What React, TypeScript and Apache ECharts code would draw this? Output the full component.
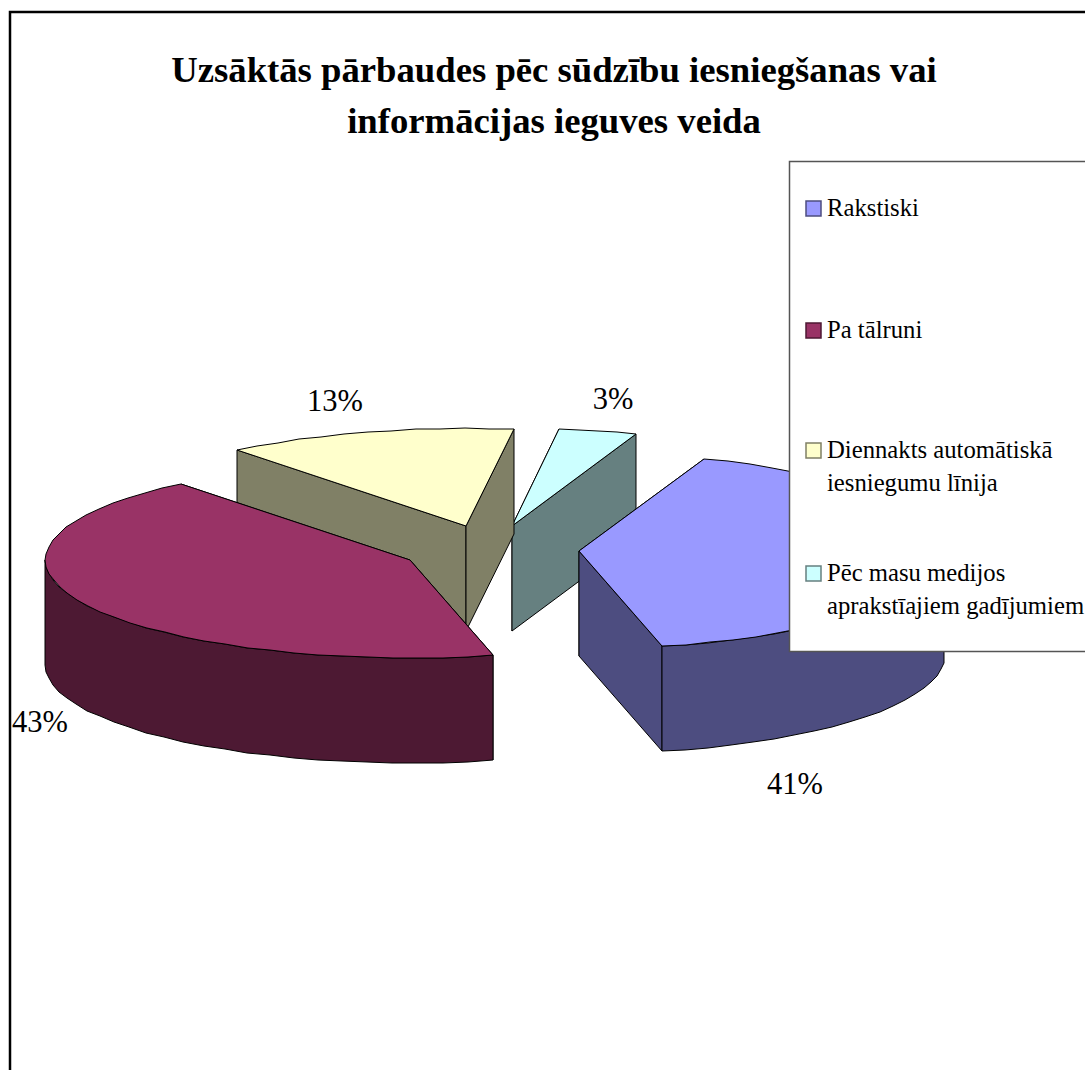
import React, { useEffect, useRef } from "react";
import * as echarts from "echarts";

const titleLines = ["Uzsāktās pārbaudes pēc sūdzību iesniegšanas vai", "informācijas ieguves veida"];
const categories = ["Rakstiski", "Pa tālruni", "Diennakts automātiskā\niesniegumu līnija", "Pēc masu medijos\naprakstīajiem gadījumiem"];
const shares = [40.83, 42.82, 12.86, 3.49];
const topColors = ["#9999FF", "#993366", "#FFFFCC", "#CCFFFF"];
const wallColors = ["#4D4D80", "#4D1933", "#808066", "#668080"];

const FONT = '"Liberation Serif", "Times New Roman", serif';
const PIE = { cx: 490.5, cy: 549.5, a: 365, b: 98, h: 105, explode: 89, startDeg: -70 };
const LABEL_AT = [[795, 784], [40, 722], [335, 401], [613, 399]];
const LEGEND_BOX = { x: 789.5, y: 161.5, w: 320, h: 490 };
const LEGEND_ROW_Y = [207, 329, 449, 572];
const LEGEND_LINE = 33;

const total = shares.reduce((s, v) => s + v, 0);

function renderSlice(params: any, api: any) {
  const i = params.dataIndex;
  const value = api.value(0);
  const before = shares.slice(0, i).reduce((s, v) => s + v, 0);
  const t0 = PIE.startDeg + (before / total) * 360;
  const t1 = t0 + (value / total) * 360;
  const rad = (d: number) => (d * Math.PI) / 180;
  const mid = rad((t0 + t1) / 2);
  const ax = PIE.cx + PIE.explode * Math.cos(mid);
  const ay = PIE.cy + (PIE.explode * Math.sin(mid) * PIE.b) / PIE.a;
  const pt = (d: number, dy = 0) => [
    Math.round(ax + PIE.a * Math.cos(rad(d))),
    Math.round(ay + PIE.b * Math.sin(rad(d)) + dy),
  ];
  const arc = (from: number, to: number, dy = 0) => {
    const n = Math.max(1, Math.ceil((to - from) / 4));
    const out: number[][] = [];
    for (let k = 0; k <= n; k++) out.push(pt(from + ((to - from) * k) / n, dy));
    return out;
  };
  const apex = [Math.round(ax), Math.round(ay)];
  const apexLow = [apex[0], apex[1] + PIE.h];
  const base = 10 * (shares.length - i);
  const wallStyle = { fill: wallColors[i], stroke: "#000", lineWidth: 1, lineJoin: "round" };
  const children: any[] = [];
  const wall = (d: number, z: number) => ({
    type: "polygon",
    z2: base + z,
    shape: { points: [apex, pt(d), pt(d, PIE.h), apexLow] },
    style: wallStyle,
  });
  children.push(wall(t0, 0), wall(t1, 1));
  const f0 = Math.max(t0, 0);
  const f1 = Math.min(t1, 180);
  if (f1 > f0) {
    children.push({
      type: "polygon",
      z2: base + 2,
      shape: { points: [...arc(f0, f1), ...arc(f0, f1, PIE.h).reverse()] },
      style: wallStyle,
    });
  }
  children.push({
    type: "polygon",
    z2: base + 3,
    shape: { points: [apex, ...arc(t0, t1)] },
    style: { fill: topColors[i], stroke: "#000", lineWidth: 1, lineJoin: "round" },
  });
  children.push({
    type: "text",
    z2: 100,
    x: LABEL_AT[i][0],
    y: LABEL_AT[i][1],
    style: {
      text: Math.round(value) + "%",
      font: `30.5px ${FONT}`,
      fill: "#000",
      align: "center",
      verticalAlign: "middle",
    },
  });
  return { type: "group", children };
}

function legendGraphic() {
  const els: any[] = [
    {
      type: "rect",
      z: 50,
      shape: { x: LEGEND_BOX.x, y: LEGEND_BOX.y, width: LEGEND_BOX.w, height: LEGEND_BOX.h },
      style: { fill: "#fff", stroke: "#555", lineWidth: 1.5 },
    },
  ];
  categories.forEach((c, i) => {
    const y = LEGEND_ROW_Y[i];
    els.push({
      type: "rect",
      z: 51,
      shape: { x: 806, y: y + 1 - 7, width: 15, height: 15 },
      style: { fill: topColors[i], stroke: wallColors[i], lineWidth: 1.5 },
    });
    c.split("\n").forEach((line, k) => {
      els.push({
        type: "text",
        z: 51,
        x: 827,
        y: y + k * LEGEND_LINE,
        style: { text: line, font: `24.7px ${FONT}`, fill: "#000", align: "left", verticalAlign: "middle" },
      });
    });
  });
  return els;
}

export default function App() {
  const ref = useRef<HTMLDivElement>(null);
  useEffect(() => {
    const chart = echarts.init(ref.current!, undefined, { renderer: "svg" });
    chart.setOption({
      animation: false,
      backgroundColor: "#fff",
      title: {
        text: titleLines.join("\n"),
        left: 549,
        top: 39,
        textAlign: "center",
        textStyle: { fontFamily: FONT, fontWeight: "bold", fontSize: 36.7, lineHeight: 51, color: "#000" },
      },
      series: [
        {
          type: "custom",
          coordinateSystem: "none",
          silent: true,
          clip: false,
          renderItem: renderSlice,
          data: categories.map((c, i) => ({ name: c, value: [shares[i]] })),
        },
      ],
      graphic: [
        {
          type: "polyline",
          z: 40,
          shape: { points: [[10, 1072], [10, 12], [1087, 12]] },
          style: { stroke: "#000", lineWidth: 2.5, fill: "none" },
        },
        ...legendGraphic(),
      ],
    });
    return () => chart.dispose();
  }, []);
  return <div ref={ref} style={{ position: "fixed", left: 0, top: 0, width: 1085, height: 1070 }} />;
}
